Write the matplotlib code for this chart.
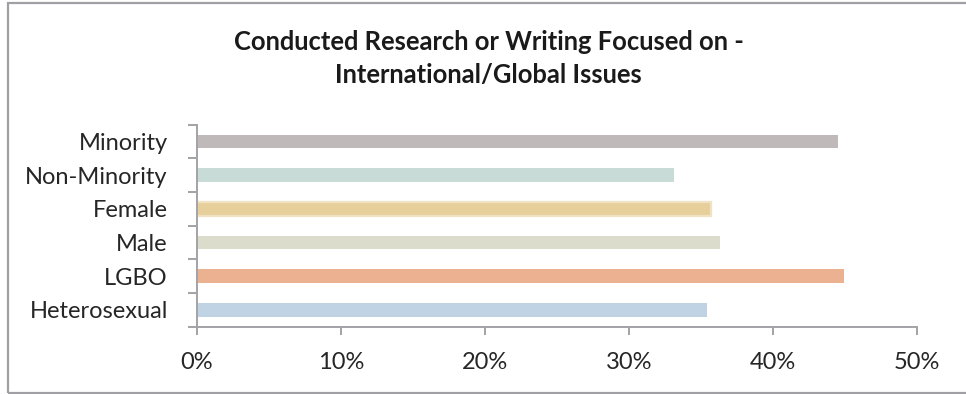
import matplotlib
matplotlib.use("Agg")
from matplotlib import pyplot as plt
from matplotlib.patches import Rectangle
from matplotlib.ticker import FixedLocator, PercentFormatter

# survey groups, top to bottom as drawn
groups = ["Minority", "Non-Minority", "Female", "Male", "LGBO", "Heterosexual"]
shares = [44.5, 33.1, 35.7, 36.3, 44.9, 35.4]
colors = ["#BFB9B9", "#C9DBD6", "#E7CF9B", "#DBDCCC", "#EBB191", "#BFD3E4"]
xticks = [0, 10, 20, 30, 40, 50]

title = "Conducted Research or Writing Focused on -\nInternational/Global Issues"

plt.rcParams["font.family"] = ["Lato", "DejaVu Sans"]

fig = plt.figure(figsize=(9.66, 3.94), dpi=100)
ax = fig.add_axes([0.2039, 0.1708, 0.7454, 0.5127])

ypos = list(range(len(groups)))[::-1]
for y, v, c, g in zip(ypos, shares, colors, groups):
    if g == "Female":
        # soft light rim around this bar
        ax.barh(y, v, height=0.41, color=c, edgecolor="#F1E2C4", linewidth=1.6, zorder=2)
    else:
        ax.barh(y, v, height=0.41, color=c, linewidth=0, zorder=2)

ax.set_xlim(0, 50)
ax.set_ylim(-0.5, len(groups) - 0.5)
ax.set_yticks(ypos)
ax.set_yticklabels(groups)
ax.yaxis.set_minor_locator(FixedLocator([i - 0.5 for i in range(len(groups) + 1)]))
ax.set_xticks(xticks)
ax.xaxis.set_major_formatter(PercentFormatter(decimals=0))

axis_grey = "#A3A3A7"
for side in ("top", "right"):
    ax.spines[side].set_visible(False)
for side in ("left", "bottom"):
    ax.spines[side].set_color(axis_grey)
    ax.spines[side].set_linewidth(1.4)

ax.tick_params(axis="y", which="major", length=0, pad=21, labelsize=17, labelcolor="#262626")
ax.tick_params(axis="y", which="minor", length=6.5, width=1.4, color=axis_grey, direction="out")
ax.tick_params(axis="x", which="major", length=5.5, width=1.4, color=axis_grey, pad=12.5,
               labelsize=17, labelcolor="#262626")

fig.text(0.506, 0.852, title, ha="center", va="center", fontsize=18.4, fontweight="bold",
         color="#1A1A1A", linespacing=1.48)

# outer chart frame
fig.patches.append(Rectangle((7.5 / 966, 1 / 394), 1.2, 1 - 3.5 / 394, transform=fig.transFigure,
                             fill=False, edgecolor="#A0A0A4", linewidth=1.6))

fig.savefig("out.png", dpi=100)
